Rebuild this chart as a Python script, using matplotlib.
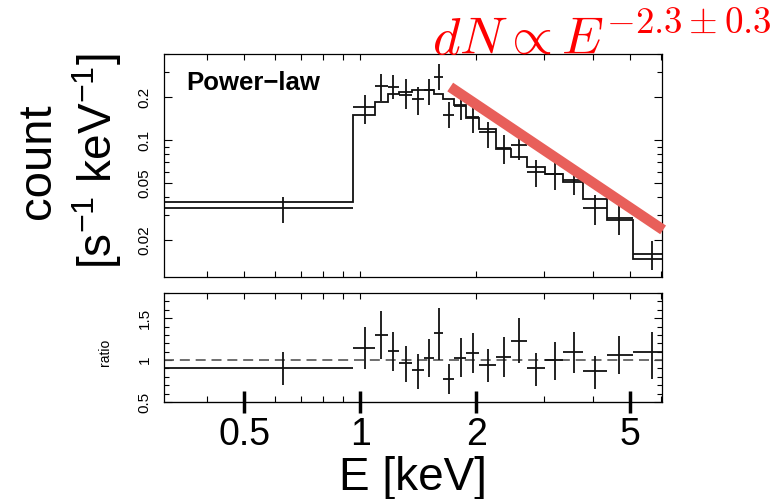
import matplotlib
matplotlib.use("Agg")
import matplotlib.pyplot as plt
from matplotlib.ticker import NullFormatter, NullLocator, LogLocator, FixedLocator
import numpy as np

plt.rcParams["font.family"] = ["Liberation Sans", "DejaVu Sans"]

# bin edges [keV] and data energies
edges = [0.30, 0.96, 1.09, 1.18, 1.26, 1.36, 1.46, 1.555, 1.635, 1.75, 1.88,
         2.03, 2.245, 2.46, 2.70, 3.01, 3.36, 3.77, 4.36, 5.09, 6.2]
energy = [0.63, 1.03, 1.131, 1.217, 1.314, 1.411, 1.509, 1.595, 1.693, 1.823,
          1.959, 2.137, 2.356, 2.582, 2.858, 3.20, 3.57, 4.06, 4.68, 5.71]

# model (step) and data, counts s^-1 keV^-1
model = [0.0368, 0.149, 0.1845, 0.209, 0.217, 0.223, 0.223, 0.211, 0.1945, 0.1767,
         0.142, 0.1194, 0.0865, 0.0764, 0.0650, 0.0578, 0.0511, 0.0386, 0.0276, 0.0147]
counts = [0.0335, 0.170, 0.2388, 0.235, 0.208, 0.1928, 0.223, 0.276, 0.149, 0.173,
          0.145, 0.1132, 0.0875, 0.0923, 0.060, 0.0578, 0.0525, 0.0333, 0.0283, 0.0160]
cnt_lo = [0.0263, 0.130, 0.1866, 0.193, 0.166, 0.150, 0.1747, 0.223, 0.1213, 0.1374,
          0.112, 0.0875, 0.0676, 0.0725, 0.0472, 0.0447, 0.0413, 0.0254, 0.0217, 0.0123]
cnt_hi = [0.040, 0.2056, 0.291, 0.287, 0.268, 0.235, 0.266, 0.341, 0.1845, 0.2056,
          0.167, 0.134, 0.108, 0.108, 0.0725, 0.0725, 0.0617, 0.0413, 0.0351, 0.0195]

# data / model
ratio = [0.90, 1.14, 1.30, 1.11, 0.96, 0.88, 1.03, 1.32, 0.78, 1.03,
         1.09, 0.94, 1.04, 1.23, 0.90, 1.00, 1.10, 0.87, 1.06, 1.10]
ratio_lo = [0.70, 0.89, 1.01, 0.87, 0.74, 0.66, 0.80, 1.00, 0.60, 0.80,
            0.85, 0.74, 0.80, 0.97, 0.69, 0.76, 0.85, 0.66, 0.83, 0.78]
ratio_hi = [1.10, 1.39, 1.58, 1.34, 1.17, 1.07, 1.25, 1.62, 0.95, 1.26,
            1.32, 1.13, 1.27, 1.50, 1.09, 1.22, 1.34, 1.05, 1.29, 1.33]

# fitted slope line (E, counts) end points
pl_E = [1.71, 6.09]
pl_y = [0.235, 0.0235]

edges = np.array(edges)
energy = np.array(energy)
xerr = [energy - edges[:-1], edges[1:] - energy]

fig = plt.figure(figsize=(7.78, 4.99), dpi=100)
ax1 = fig.add_axes([164/778, 1-277/499, 498/778, 223/499])
ax2 = fig.add_axes([164/778, 1-402/499, 498/778, 109/499])

lw = 1.3
k = "#111111"

# top panel
ax1.stairs(model, edges, color=k, lw=lw)
c = np.array(counts)
ax1.errorbar(energy, c, xerr=xerr, yerr=[c - np.array(cnt_lo), np.array(cnt_hi) - c],
             fmt="none", ecolor=k, elinewidth=lw, capsize=0)
ax1.plot(pl_E, pl_y, color="#e85f5a", lw=7.5, solid_capstyle="butt", clip_on=False, zorder=5)
ax1.set_xscale("log")
ax1.set_yscale("log")
ax1.set_xlim(0.31, 6.05)
ax1.set_ylim(0.011, 0.40)
ax1.set_yticks([0.02, 0.05, 0.1, 0.2], ["0.02", "0.05", "0.1", "0.2"])
ax1.yaxis.set_minor_locator(LogLocator(subs=np.arange(2, 10)))
ax1.yaxis.set_minor_formatter(NullFormatter())
ax1.xaxis.set_major_locator(FixedLocator([0.5, 1, 2, 5]))
ax1.xaxis.set_minor_locator(LogLocator(subs=np.arange(2, 10)))
ax1.tick_params(which="both", direction="in", top=True, right=True, width=0.8,
                labelbottom=False)
ax1.tick_params(axis="y", which="major", length=6, labelsize=11, labelrotation=90, pad=9)
ax1.tick_params(axis="y", which="minor", length=3.5)
ax1.tick_params(axis="x", which="both", length=4)
for lab in ax1.get_yticklabels():
    lab.set_va("center")
ax1.text(0.044, 0.87, "Power\u2212law", transform=ax1.transAxes, fontsize=18.5,
         fontweight="bold", va="center", ha="left")

# ratio panel
r = np.array(ratio)
ax2.axhline(1.0, color="#555555", lw=1.2, ls=(0, (6, 3.5)))
ax2.errorbar(energy, r, xerr=xerr, yerr=[r - np.array(ratio_lo), np.array(ratio_hi) - r],
             fmt="none", ecolor=k, elinewidth=lw, capsize=0)
ax2.set_xscale("log")
ax2.set_xlim(0.31, 6.05)
ax2.set_ylim(0.5, 1.8)
ax2.set_yticks([0.5, 1, 1.5], ["0.5", "1", "1.5"])
ax2.set_yticks(np.arange(0.5, 1.81, 0.1), minor=True)
ax2.xaxis.set_major_locator(FixedLocator([0.5, 1, 2, 5]))
ax2.xaxis.set_minor_locator(LogLocator(subs=np.arange(2, 10)))
ax2.tick_params(which="both", direction="in", top=True, right=True, width=0.8,
                labelbottom=False)
ax2.tick_params(axis="y", which="major", length=6, labelsize=11, labelrotation=90, pad=9)
ax2.tick_params(axis="y", which="minor", length=3.5)
ax2.tick_params(axis="x", which="both", length=4)
for lab in ax2.get_yticklabels():
    lab.set_va("center")

sec = ax2.secondary_xaxis("bottom")
sec.set_xticks([0.5, 1, 2, 5], ["0.5", "1", "2", "5"])
sec.xaxis.set_minor_locator(NullLocator())
sec.tick_params(direction="inout", length=16, width=2.5, labelsize=27, pad=3)

for ax in (ax1, ax2):
    for s in ax.spines.values():
        s.set_linewidth(0.9)

# labels
fig.text(38/778, 1-161/499, "count", rotation=90, fontsize=34, ha="center", va="center")
fig.text(97/778, 1-161/499, r"[s$^{\mathregular{-1}}$ keV$^{\mathregular{-1}}$]",
         rotation=90, fontsize=33, ha="center", va="center")
fig.text(105/778, 1-352/499, "ratio", rotation=90, fontsize=10, ha="center", va="center")
fig.text(413/778, 1-478/499, "E [keV]", fontsize=33, ha="center", va="center")
fig.text(772/778, 1-54/499, r"$dN \propto E^{-2.3\pm0.3}$", color="red", fontsize=38,
         ha="right", va="baseline", math_fontfamily="cm")

fig.savefig("out.png", dpi=100)
